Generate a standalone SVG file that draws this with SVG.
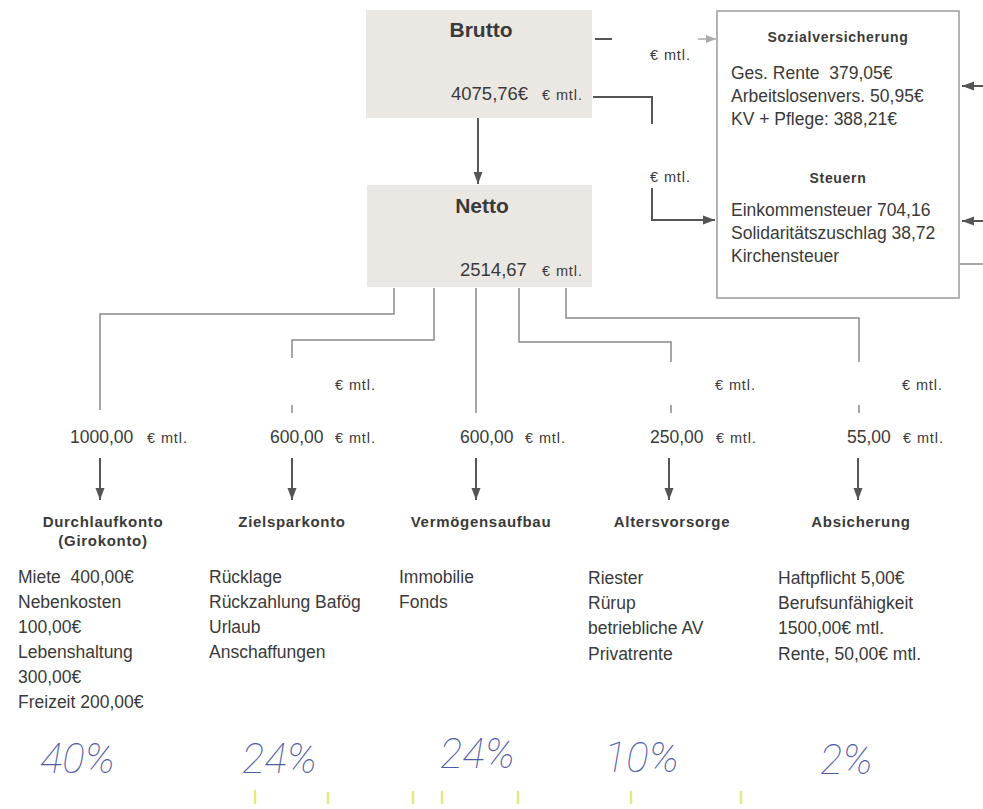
<svg xmlns="http://www.w3.org/2000/svg" width="983" height="809" viewBox="0 0 983 809">
<defs>
<style>
.t{font-family:"Liberation Sans",Arial,sans-serif;fill:#3a3a3a;white-space:pre}
.b{font-family:"Liberation Sans",Arial,sans-serif;font-weight:bold;fill:#3a3a3a}
.body{font-size:17.5px}
.num{font-size:17.5px}
.em{font-size:14.5px;letter-spacing:0.9px}
.hd{font-size:15px;letter-spacing:0.7px}
.box{fill:#ebe8e3}
.c{fill:none;stroke:#8a8a8a;stroke-width:1.5}
.cd{fill:none;stroke:#555;stroke-width:2}
.pc{font-family:Roboto,"DejaVu Sans",sans-serif;font-weight:100;font-style:italic;font-size:42px;fill:#4f5aa6}
.y{stroke:#dde66a;stroke-width:2.5;stroke-linecap:round;opacity:0.85}
</style>
<marker id="arr" markerUnits="userSpaceOnUse" markerWidth="12" markerHeight="10" refX="12" refY="5" orient="auto">
<path d="M0,0.5 L12,5 L0,9.5 z" fill="#555"/>
</marker>
<marker id="arrl" markerUnits="userSpaceOnUse" markerWidth="10" markerHeight="8" refX="10" refY="4" orient="auto">
<path d="M0,0 L10,4 L0,8 z" fill="#aaa"/>
</marker>
</defs>
<rect width="983" height="809" fill="#ffffff"/>

<g id="connectors">
<line class="cd" x1="478" y1="118" x2="478" y2="184" marker-end="url(#arr)"/>
<line class="cd" x1="595" y1="39" x2="612" y2="39"/>
<line x1="698" y1="39" x2="716" y2="39" stroke="#aaa" stroke-width="1.5" marker-end="url(#arrl)"/>
<path class="cd" d="M593,97 H652 V124"/>
<path class="cd" d="M652,188 V220 H715" marker-end="url(#arr)"/>
<path class="cd" d="M983,86 H962" marker-end="url(#arr)"/>
<path class="cd" d="M983,221 H962" marker-end="url(#arr)"/>
<path class="c" d="M960,264 H983"/>
<path class="c" d="M394,288 V314 H100 V410"/>
<path class="c" d="M434,288 V340 H292 V358"/>
<path class="c" d="M292,405 V413"/>
<path class="c" d="M476,288 V413"/>
<path class="c" d="M519,288 V342 H671 V362"/>
<path class="c" d="M671,405 V413"/>
<path class="c" d="M566,288 V318 H859 V362"/>
<path class="c" d="M859,405 V413"/>
<path class="cd" d="M100,458 V500" marker-end="url(#arr)"/>
<path class="cd" d="M292,458 V500" marker-end="url(#arr)"/>
<path class="cd" d="M476,458 V500" marker-end="url(#arr)"/>
<path class="cd" d="M669,458 V500" marker-end="url(#arr)"/>
<path class="cd" d="M858,458 V500" marker-end="url(#arr)"/>
<text class="t em" x="650" y="60">€ mtl.</text>
<text class="t em" x="650" y="182">€ mtl.</text>
<text class="t em" x="335" y="390">€ mtl.</text>
<text class="t em" x="715" y="390">€ mtl.</text>
<text class="t em" x="902" y="390">€ mtl.</text>
<text class="t num" x="70" y="443">1000,00</text><text class="t em" x="147" y="443">€ mtl.</text>
<text class="t num" x="270" y="443">600,00</text><text class="t em" x="335" y="443">€ mtl.</text>
<text class="t num" x="460" y="443">600,00</text><text class="t em" x="525" y="443">€ mtl.</text>
<text class="t num" x="650" y="443">250,00</text><text class="t em" x="716" y="443">€ mtl.</text>
<text class="t num" x="847" y="443">55,00</text><text class="t em" x="903" y="443">€ mtl.</text>
</g>

<g id="brutto">
<rect class="box" x="366" y="10" width="226" height="108"/>
<text class="b" x="481" y="37" font-size="21" text-anchor="middle">Brutto</text>
<text class="t" x="451" y="100" font-size="18.5">4075,76€</text>
<text class="t em" x="542" y="100">€ mtl.</text>
</g>

<g id="netto">
<rect class="box" x="367" y="185" width="225" height="102"/>
<text class="b" x="482" y="213" font-size="21" text-anchor="middle">Netto</text>
<text class="t" x="460" y="276" font-size="18.5">2514,67</text>
<text class="t em" x="542" y="276">€ mtl.</text>
</g>

<g id="abzuege">
<rect x="717" y="11" width="242" height="287" fill="#ffffff" stroke="#9a9a9a" stroke-width="1.5"/>
<text class="b" x="838" y="42" font-size="14" letter-spacing="0.7" text-anchor="middle">Sozialversicherung</text>
<text class="t body" x="731" y="79">Ges. Rente&#160; 379,05€</text>
<text class="t body" x="731" y="102">Arbeitslosenvers. 50,95€</text>
<text class="t body" x="731" y="125">KV + Pflege: 388,21€</text>
<text class="b" x="838" y="183" font-size="14" letter-spacing="0.7" text-anchor="middle">Steuern</text>
<text class="t body" x="731" y="216">Einkommensteuer 704,16</text>
<text class="t body" x="731" y="239">Solidaritätszuschlag 38,72</text>
<text class="t body" x="731" y="262">Kirchensteuer</text>
</g>

<g id="durchlaufkonto">
<text class="b hd" x="103" y="527" text-anchor="middle">Durchlaufkonto</text>
<text class="b hd" x="103" y="546" text-anchor="middle">(Girokonto)</text>
<text class="t body" x="18" y="583">Miete&#160; 400,00€</text>
<text class="t body" x="18" y="608">Nebenkosten</text>
<text class="t body" x="18" y="633">100,00€</text>
<text class="t body" x="18" y="658">Lebenshaltung</text>
<text class="t body" x="18" y="683">300,00€</text>
<text class="t body" x="18" y="708">Freizeit 200,00€</text>
</g>

<g id="zielsparkonto">
<text class="b hd" x="292" y="527" text-anchor="middle">Zielsparkonto</text>
<text class="t body" x="209" y="583">Rücklage</text>
<text class="t body" x="209" y="608">Rückzahlung Bafög</text>
<text class="t body" x="209" y="633">Urlaub</text>
<text class="t body" x="209" y="658">Anschaffungen</text>
</g>

<g id="vermoegensaufbau">
<text class="b hd" x="481" y="527" text-anchor="middle">Vermögensaufbau</text>
<text class="t body" x="399" y="583">Immobilie</text>
<text class="t body" x="399" y="608">Fonds</text>
</g>

<g id="altersvorsorge">
<text class="b hd" x="672" y="527" text-anchor="middle">Altersvorsorge</text>
<text class="t body" x="588" y="584">Riester</text>
<text class="t body" x="588" y="609">Rürup</text>
<text class="t body" x="588" y="634">betriebliche AV</text>
<text class="t body" x="588" y="660">Privatrente</text>
</g>

<g id="absicherung">
<text class="b hd" x="861" y="527" text-anchor="middle">Absicherung</text>
<text class="t body" x="778" y="584">Haftpflicht 5,00€</text>
<text class="t body" x="778" y="609">Berufsunfähigkeit</text>
<text class="t body" x="778" y="634">1500,00€ mtl.</text>
<text class="t body" x="778" y="660">Rente, 50,00€ mtl.</text>
</g>

<g id="prozente">
<text class="pc" x="40" y="773">40%</text>
<text class="pc" x="242" y="773">24%</text>
<text class="pc" x="440" y="768">24%</text>
<text class="pc" x="604" y="772">10%</text>
<text class="pc" x="820" y="774">2%</text>
</g>

<g id="markierungen">
<line class="y" x1="255" y1="791" x2="255" y2="803"/>
<line class="y" x1="328" y1="793" x2="328" y2="803"/>
<line class="y" x1="413" y1="792" x2="413" y2="803"/>
<line class="y" x1="442" y1="792" x2="442" y2="803"/>
<line class="y" x1="518" y1="792" x2="518" y2="803"/>
<line class="y" x1="631" y1="792" x2="631" y2="803"/>
<line class="y" x1="741" y1="792" x2="741" y2="803"/>
</g>
</svg>
